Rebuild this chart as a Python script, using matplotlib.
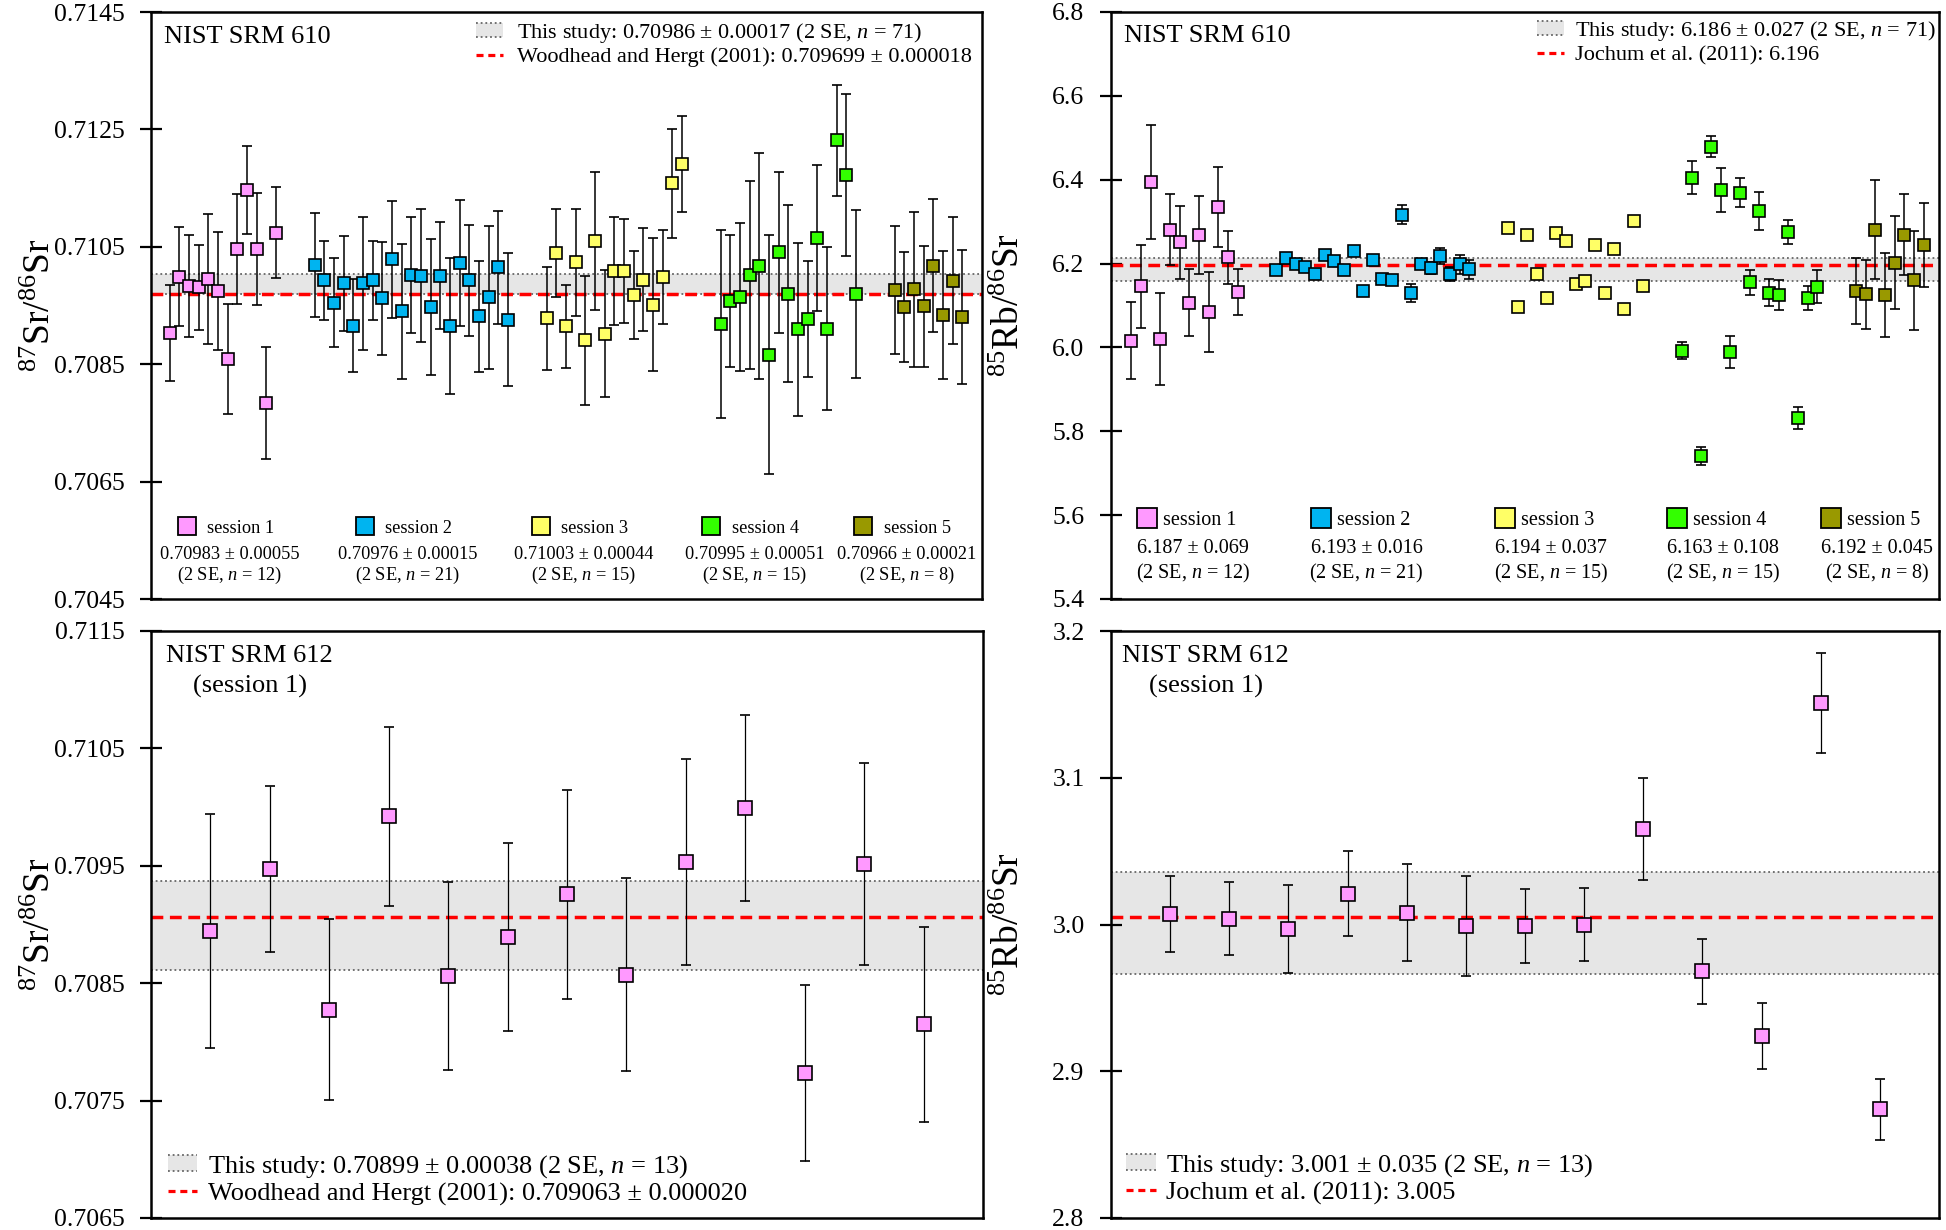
import matplotlib
matplotlib.use("Agg")
import numpy as np
import matplotlib.pyplot as plt
from matplotlib.lines import Line2D
from matplotlib.patches import Rectangle, Patch
from matplotlib.legend import Legend
from matplotlib.legend_handler import HandlerBase
from matplotlib.ticker import FormatStrFormatter

plt.rcParams['font.family'] = ['Liberation Serif', 'DejaVu Serif']
plt.rcParams['mathtext.fontset'] = 'custom'
plt.rcParams['mathtext.rm'] = 'Liberation Serif'
plt.rcParams['mathtext.it'] = 'Liberation Serif:italic'
plt.rcParams['mathtext.bf'] = 'Liberation Serif:bold'

# ---------------- data ----------------
sessions = ["session 1", "session 2", "session 3", "session 4", "session 5"]
session_colors = ["#FF99FF", "#00B4F0", "#FFFF66", "#33FF00", "#999900"]
session_x_start = [1, 16, 40, 58, 76]
session_n = [12, 21, 15, 15, 8]

# NIST SRM 610, 87Sr/86Sr
sr610 = [
    [0.709028, 0.709992, 0.709836, 0.709810, 0.709953, 0.709744, 0.708585, 0.710461, 0.711464, 0.710467, 0.707836, 0.710741],
    [0.710187, 0.709927, 0.709549, 0.709875, 0.709158, 0.709875, 0.709927, 0.709621, 0.710285, 0.709399, 0.710024,
     0.710011, 0.709471, 0.710011, 0.709152, 0.710226, 0.709927, 0.709314, 0.709640, 0.710148, 0.709256],
    [0.709282, 0.710389, 0.709145, 0.710233, 0.708910, 0.710598, 0.709021, 0.710083, 0.710089, 0.709686, 0.709940,
     0.709516, 0.709979, 0.711581, 0.711914],
    [0.709184, 0.709575, 0.709647, 0.710024, 0.710174, 0.708663, 0.710409, 0.709699, 0.709093, 0.709269, 0.710650,
     0.709106, 0.712311, 0.711718, 0.709692],
    [0.709770, 0.709471, 0.709776, 0.709490, 0.710181, 0.709334, 0.709920, 0.709308],
]
sr610_err = [
    [0.00082, 0.00084, 0.00087, 0.00072, 0.00111, 0.00100, 0.00094, 0.00094, 0.00075, 0.00095, 0.00095, 0.00077],
    [0.00089, 0.00067, 0.00076, 0.00081, 0.00079, 0.00114, 0.00067, 0.00096, 0.00099, 0.00115, 0.00099,
     0.00114, 0.00116, 0.00091, 0.00116, 0.00107, 0.00095, 0.00095, 0.00122, 0.00097, 0.00113],
    [0.00088, 0.00075, 0.00071, 0.00091, 0.00110, 0.00118, 0.00108, 0.00092, 0.00089, 0.00075, 0.00088,
     0.00114, 0.00080, 0.00093, 0.00082],
    [0.00160, 0.00113, 0.00126, 0.00160, 0.00192, 0.00203, 0.00137, 0.00151, 0.00147, 0.00099, 0.00125,
     0.00139, 0.00095, 0.00138, 0.00143],
    [0.00109, 0.00094, 0.00132, 0.00103, 0.00114, 0.00109, 0.00108, 0.00114],
]
sr610_session_stats = ["0.70983 \u00b1 0.00055", "0.70976 \u00b1 0.00015", "0.71003 \u00b1 0.00044",
                       "0.70995 \u00b1 0.00051", "0.70966 \u00b1 0.00021"]
sr610_mean, sr610_se, sr610_ref = 0.70986, 0.00017, 0.709699
sr610_ticks = [0.7045, 0.7065, 0.7085, 0.7105, 0.7125, 0.7145]

# NIST SRM 610, 85Rb/86Sr
rb610 = [
    [6.016, 6.146, 6.395, 6.021, 6.281, 6.251, 6.107, 6.268, 6.085, 6.335, 6.215, 6.132],
    [6.184, 6.214, 6.198, 6.191, 6.175, 6.220, 6.205, 6.185, 6.230, 6.135, 6.209,
     6.164, 6.161, 6.317, 6.130, 6.198, 6.189, 6.218, 6.175, 6.198, 6.186],
    [6.286, 6.096, 6.267, 6.175, 6.118, 6.273, 6.253, 6.152, 6.158, 6.244, 6.130,
     6.235, 6.091, 6.301, 6.146],
    [5.992, 6.405, 5.741, 6.479, 6.376, 5.989, 6.369, 6.155, 6.326, 6.131, 6.125,
     6.275, 5.832, 6.118, 6.145],
    [6.135, 6.127, 6.281, 6.125, 6.202, 6.269, 6.160, 6.244],
]
rb610_err = [
    [0.092, 0.099, 0.136, 0.110, 0.085, 0.087, 0.080, 0.092, 0.096, 0.096, 0.063, 0.055],
    [0.008, 0.010, 0.006, 0.006, 0.008, 0.006, 0.006, 0.010, 0.011, 0.004, 0.006,
     0.010, 0.010, 0.022, 0.022, 0.011, 0.015, 0.019, 0.016, 0.022, 0.022],
    [0.004] * 15,
    [0.020, 0.040, 0.021, 0.025, 0.053, 0.039, 0.035, 0.030, 0.045, 0.033, 0.035,
     0.028, 0.026, 0.028, 0.040],
    [0.078, 0.082, 0.118, 0.100, 0.111, 0.097, 0.118, 0.101],
]
rb610_session_stats = ["6.187 \u00b1 0.069", "6.193 \u00b1 0.016", "6.194 \u00b1 0.037",
                       "6.163 \u00b1 0.108", "6.192 \u00b1 0.045"]
rb610_mean, rb610_se, rb610_ref = 6.186, 0.027, 6.196
rb610_ticks = [5.4, 5.6, 5.8, 6.0, 6.2, 6.4, 6.6, 6.8]

# NIST SRM 612 (session 1)
sr612 = [0.708945, 0.709472, 0.708274, 0.709920, 0.708560, 0.708896, 0.709256, 0.708574, 0.709532,
         0.709991, 0.707737, 0.709514, 0.708150]
sr612_err = [0.00100, 0.00071, 0.00077, 0.00076, 0.00080, 0.00080, 0.00089, 0.00082, 0.00088,
             0.00079, 0.00075, 0.00086, 0.00083]
sr612_mean, sr612_se, sr612_ref = 0.70899, 0.00038, 0.709063
sr612_ticks = [0.7065, 0.7075, 0.7085, 0.7095, 0.7105, 0.7115]

rb612 = [3.007, 3.004, 2.997, 3.021, 3.008, 2.999, 2.999, 3.000, 3.065, 2.968, 2.924, 3.151, 2.874]
rb612_err = [0.026, 0.025, 0.030, 0.029, 0.033, 0.034, 0.025, 0.025, 0.035, 0.022, 0.0225, 0.034, 0.021]
rb612_mean, rb612_se, rb612_ref = 3.001, 0.035, 3.005
rb612_ticks = [2.8, 2.9, 3.0, 3.1, 3.2]

# ---------------- style ----------------
BAND = "#E6E6E6"
DOT = "#666666"
RED = "#FF0000"
W, H = 1946, 1230

fig = plt.figure(figsize=(W / 100, H / 100), dpi=100)


def axes_px(x0, y0, x1, y1):
    return fig.add_axes([x0 / W, 1 - y1 / H, (x1 - x0) / W, (y1 - y0) / H])


ax_tl = axes_px(151, 12, 982, 599)
ax_tr = axes_px(1111, 12, 1939, 599)
ax_bl = axes_px(151, 631, 983, 1218)
ax_br = axes_px(1111, 631, 1939, 1218)


class BandHandler(HandlerBase):
    def create_artists(self, legend, orig_handle, xdescent, ydescent, width, height, fontsize, trans):
        x0, y0 = -xdescent, -ydescent
        r = Rectangle((x0, y0), width, height, facecolor=BAND, edgecolor='none', transform=trans)
        l1 = Line2D([x0, x0 + width], [y0 + height] * 2, color=DOT, lw=1.3,
                    linestyle=(0, (1, 1.6)), transform=trans)
        l2 = Line2D([x0, x0 + width], [y0] * 2, color=DOT, lw=1.3,
                    linestyle=(0, (1, 1.6)), transform=trans)
        return [r, l1, l2]


def style_axes(ax, ylim, ticks, fmt, xlim):
    ax.set_xlim(*xlim)
    ax.set_ylim(*ylim)
    ax.set_yticks(ticks)
    ax.yaxis.set_major_formatter(FormatStrFormatter(fmt))
    ax.set_xticks([])
    ax.tick_params(axis='y', direction='inout', length=16, width=1.6, pad=11, labelsize=18.5)
    for s in ax.spines.values():
        s.set_linewidth(1.8)


def reference_lines(ax, mean, se, ref):
    ax.axhspan(mean - se, mean + se, facecolor=BAND, edgecolor='none', zorder=0)
    for v in (mean - se, mean + se):
        ax.axhline(v, color=DOT, lw=1.3, linestyle=(0, (1, 1.6)), zorder=1)
    ax.axhline(ref, color=RED, lw=2.5, linestyle=(0, (3.4, 1.9)), zorder=2)


def top_legend(ax, lab1, lab2, anchor, fs, hl, htp):
    h1 = Patch()
    h2 = Line2D([], [], color=RED, lw=2.3, linestyle=(0, (2.2, 1.5)))
    leg = Legend(ax, [h1, h2], [lab1, lab2], handler_map={Patch: BandHandler()},
                 loc='upper left', bbox_to_anchor=anchor, frameon=False, fontsize=fs,
                 handlelength=hl, handletextpad=htp, borderpad=0, borderaxespad=0,
                 labelspacing=0.1, handleheight=0.6)
    ax.add_artist(leg)


def session_legends(ax, stats, centers_px, ax_px, rows_px, fs, ms, sq_off, txt_off, hl):
    x0, x1, y0, y1 = ax_px

    def fx(p):
        return (p - x0) / (x1 - x0)

    def fy(p):
        return 1 - (p - y0) / (y1 - y0)

    for i in range(5):
        c = centers_px[i]
        h = Line2D([], [], marker='s', ls='none', mfc=session_colors[i], mec='black', mew=1.3, ms=ms)
        sq_left = c - sq_off
        sq_w = hl * fs * 100 / 72
        htp = (c - txt_off - (sq_left + sq_w)) / (fs * 100 / 72)
        leg = Legend(ax, [h], [sessions[i]], loc='center left', bbox_to_anchor=(fx(sq_left), fy(rows_px[0])),
                     frameon=False, fontsize=fs, handlelength=hl, handletextpad=htp,
                     borderpad=0, borderaxespad=0)
        ax.add_artist(leg)
        ax.text(fx(c), fy(rows_px[1]), stats[i], ha='center', va='center', fontsize=fs, transform=ax.transAxes)
        ax.text(fx(c), fy(rows_px[2]), "(2 SE, $n$ = %d)" % session_n[i], ha='center', va='center',
                fontsize=fs, transform=ax.transAxes)


def plot_sessions(ax, vals, errs):
    for i in range(5):
        xs = list(range(session_x_start[i], session_x_start[i] + len(vals[i])))
        ax.errorbar(xs, vals[i], yerr=errs[i], fmt='s', mfc=session_colors[i], mec='black', mew=1.2,
                    ms=8.0, ecolor='black', elinewidth=1.1, capsize=3.3, capthick=1.1, zorder=3)


YLAB_FS = 27

# ---- top left ----
ax = ax_tl
reference_lines(ax, sr610_mean, sr610_se, sr610_ref)
plot_sessions(ax, sr610, sr610_err)
style_axes(ax, (0.7045, 0.7145), sr610_ticks, '%.4f', (-0.93, 85.04))
ax.set_ylabel("$^{87}$Sr/$^{86}$Sr", fontsize=YLAB_FS)
ax.yaxis.set_label_coords(-0.112, 0.5)
ax.text(0.0156, 0.957, "NIST SRM 610", fontsize=19, va='center', ha='left', transform=ax.transAxes)
top_legend(ax, "This study: 0.70986 \u00b1 0.00017 (2 SE, $n$ = 71)",
           "Woodhead and Hergt (2001): 0.709699 \u00b1 0.000018",
           ((476 - 151) / 831, 1 - (21 - 12) / 587), 16, 1.22, 0.62)
session_legends(ax, sr610_session_stats, [230, 408, 584, 754.5, 906.7], (151, 982, 12, 599),
                (528, 554, 575), 13.2, 13, 53, 23, 1.05)

# ---- top right ----
ax = ax_tr
reference_lines(ax, rb610_mean, rb610_se, rb610_ref)
plot_sessions(ax, rb610, rb610_err)
style_axes(ax, (5.4, 6.8), rb610_ticks, '%.1f', (-1.1, 84.6))
ax.set_ylabel("$^{85}$Rb/$^{86}$Sr", fontsize=YLAB_FS)
ax.yaxis.set_label_coords(-0.101, 0.5)
ax.text(0.0157, 0.959, "NIST SRM 610", fontsize=19, va='center', ha='left', transform=ax.transAxes)
top_legend(ax, "This study: 6.186 \u00b1 0.027 (2 SE, $n$ = 71)",
           "Jochum et al. (2011): 6.196",
           ((1537 - 1111) / 828, 1 - (19 - 12) / 587), 16, 1.22, 0.5)
session_legends(ax, rb610_session_stats, [1193, 1366.7, 1551, 1723, 1877], (1111, 1939, 12, 599),
                (520, 548, 573), 14.5, 14, 56, 30, 0.98)

# ---- bottom left ----
ax = ax_bl
reference_lines(ax, sr612_mean, sr612_se, sr612_ref)
xs612 = list(range(1, len(sr612) + 1))
ax.errorbar(xs612, sr612, yerr=sr612_err, fmt='s', mfc=session_colors[0], mec='black', mew=1.2,
            ms=10.2, ecolor='black', elinewidth=0.9, capsize=3.6, capthick=0.9, zorder=3)
style_axes(ax, (0.7065, 0.7115), sr612_ticks, '%.4f', (0, 14))
ax.set_ylabel("$^{87}$Sr/$^{86}$Sr", fontsize=YLAB_FS)
ax.yaxis.set_label_coords(-0.112, 0.5)
ax.text(0.0176, 0.957, "NIST SRM 612", fontsize=19, va='center', ha='left', transform=ax.transAxes)
ax.text(0.119, 0.906, "(session 1)", fontsize=19, va='center', ha='center', transform=ax.transAxes)
top_legend(ax, "This study: 0.70899 \u00b1 0.00038 (2 SE, $n$ = 13)",
           "Woodhead and Hergt (2001): 0.709063 \u00b1 0.000020",
           ((167.5 - 151) / 832, 1 - (1153 - 631) / 587), 19, 1.12, 0.42)

# ---- bottom right ----
ax = ax_br
reference_lines(ax, rb612_mean, rb612_se, rb612_ref)
ax.errorbar(xs612, rb612, yerr=rb612_err, fmt='s', mfc=session_colors[0], mec='black', mew=1.2,
            ms=10.2, ecolor='black', elinewidth=0.9, capsize=3.6, capthick=0.9, zorder=3)
style_axes(ax, (2.8, 3.2), rb612_ticks, '%.1f', (0, 14))
ax.set_ylabel("$^{85}$Rb/$^{86}$Sr", fontsize=YLAB_FS)
ax.yaxis.set_label_coords(-0.101, 0.5)
ax.text(0.0129, 0.957, "NIST SRM 612", fontsize=19, va='center', ha='left', transform=ax.transAxes)
ax.text(0.115, 0.906, "(session 1)", fontsize=19, va='center', ha='center', transform=ax.transAxes)
top_legend(ax, "This study: 3.001 \u00b1 0.035 (2 SE, $n$ = 13)",
           "Jochum et al. (2011): 3.005",
           ((1126 - 1111) / 828, 1 - (1152 - 631) / 587), 19, 1.12, 0.4)

fig.savefig("out.png", dpi=100)
